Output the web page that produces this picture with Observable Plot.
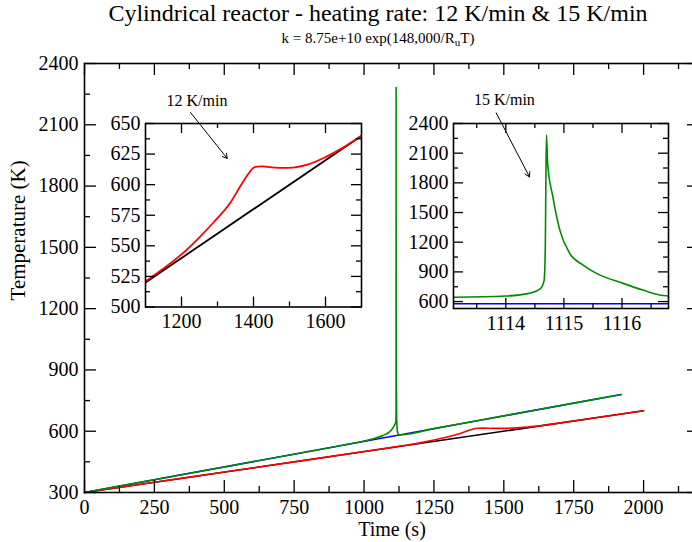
<!DOCTYPE html>
<html><head><meta charset="utf-8">
<script src="https://cdn.jsdelivr.net/npm/d3@7"></script>
<script src="https://cdn.jsdelivr.net/npm/@observablehq/plot@0.6"></script>
<style>
html,body{margin:0;padding:0;background:#fff;overflow:hidden;}
#wrap{position:relative;width:692px;height:542px;overflow:hidden;font-family:"Liberation Serif","Times New Roman",serif;color:#000;}
.t{position:absolute;left:68px;width:620px;text-align:center;white-space:nowrap;line-height:1;}
#title{font-size:24px;top:1px;}
#sub{font-size:15px;top:31px;}
#sub sub{font-size:11px;vertical-align:-3px;line-height:0;}
.abs{position:absolute;}
</style>
</head><body>
<div id="wrap">
  <div id="main" class="abs" style="left:0;top:0"></div>
  <div id="in12" class="abs"></div>
  <div id="in15" class="abs"></div>
  <div id="title" class="t">Cylindrical reactor - heating rate: 12 K/min &amp; 15 K/min</div>
  <div id="sub" class="t">k = 8.75e+10 exp(148,000/R<sub>u</sub>T)</div>
</div>
<script>
const FONT = '"Liberation Serif","Times New Roman",serif';

// ---- main axes
const timeTicks = [0, 250, 500, 750, 1000, 1250, 1500, 1750, 2000];
const timeMinorTicks = [125, 375, 625, 875, 1125, 1375, 1625, 1875, 2125];
const tempTicks = [300, 600, 900, 1200, 1500, 1800, 2100, 2400];
const tempMinorTicks = [450, 750, 1050, 1350, 1650, 1950, 2250];
const yLabelAt = [1240]; // temperature level at which the y-axis title is centred

// ---- series (time s, temperature K)
const ref12Time = [0, 2000];
const ref12Temp = [300, 700];
const ref15Time = [0, 1920];
const ref15Temp = [300, 780];
const react12Time = [0, 250, 500, 750, 1000, 1100, 1150, 1200, 1250, 1290, 1335, 1363, 1385, 1398, 1410, 1425, 1450, 1480, 1510, 1550, 1600, 1650, 1700, 1750, 2000];
const react12Temp = [300, 350, 400, 450, 500.5, 521, 531.5, 543, 557, 569.5, 585, 598.5, 608.5, 613.3, 614.8, 615, 614.2, 613.7, 614, 616.3, 622.5, 630.5, 640, 650, 700];
const react15Time = [0, 250, 500, 750, 900, 950, 1000, 1040, 1070, 1090, 1100, 1108, 1113.1, 1114.0, 1114.4, 1114.6, 1114.66, 1114.68, 1114.69, 1114.70, 1114.72, 1114.81, 1114.93, 1115.1, 1115.33, 1115.56, 1116.02, 1116.36, 1116.65, 1116.8, 1118, 1120, 1125, 1250, 1500, 1750, 1920];
const react15Temp = [300, 362.5, 425, 487.5, 525.5, 538.5, 552, 566, 580, 596, 610, 628, 643, 656, 683, 733, 817, 1154, 1827, 2282, 1996, 1659, 1322, 1087, 969, 885, 784, 716, 666, 656, 620, 595, 582, 612.5, 675, 737.5, 780];

// ---- inset 12 K/min
const in12TimeTicks = [1200, 1400, 1600];
const in12TimeMinor = [1300, 1500];
const in12TempTicks = [500, 525, 550, 575, 600, 625, 650];
const in12TempMinor = [512.5, 537.5, 562.5, 587.5, 612.5, 637.5];
const note12Text = ["12 K/min"];
const note12X = [1243], note12Y = [668.6];
const arrow12X1 = [1225], arrow12Y1 = [659], arrow12X2 = [1327], arrow12Y2 = [621.4];

// ---- inset 15 K/min
const in15TimeTicks = [1114, 1115, 1116];
const in15TimeMinor = [1113.5, 1114.5, 1115.5, 1116.5];
const in15TempTicks = [600, 900, 1200, 1500, 1800, 2100, 2400];
const in15TempMinor = [750, 1050, 1350, 1650, 1950, 2250];
const note15Text = ["15 K/min"];
const note15X = [1113.976], note15Y = [2636];
const arrow15X1 = [1113.835], arrow15Y1 = [2507], arrow15X2 = [1114.408], arrow15Y2 = [1860];

const rows = (ts, Ts) => ts.map((t, i) => ({t, T: Ts[i]}));
const fmt = d => String(d);

function boxTicks(xMajor, xMinor, yMajor, yMinor, fw, fh, maj, min, sw) {
  const s = {stroke: "#000", strokeWidth: sw};
  return [
    Plot.tickX(xMajor, {x: d => d, insetTop: fh - maj, ...s}),
    Plot.tickX(xMajor, {x: d => d, insetBottom: fh - maj, ...s}),
    Plot.tickX(xMinor, {x: d => d, insetTop: fh - min, ...s}),
    Plot.tickX(xMinor, {x: d => d, insetBottom: fh - min, ...s}),
    Plot.tickY(yMajor, {y: d => d, insetRight: fw - maj, ...s}),
    Plot.tickY(yMajor, {y: d => d, insetLeft: fw - maj, ...s}),
    Plot.tickY(yMinor, {y: d => d, insetRight: fw - min, ...s}),
    Plot.tickY(yMinor, {y: d => d, insetLeft: fw - min, ...s})
  ];
}

// ---------- main plot
{
  const W = 692, H = 542, mL = 84, mR = -7, mT = 63, mB = 50;
  const fw = W - mL - mR, fh = H - mT - mB;
  const p = Plot.plot({
    width: W, height: H, marginLeft: mL, marginRight: mR, marginTop: mT, marginBottom: mB,
    style: {fontFamily: FONT, fontSize: "20px", background: "transparent", color: "#000", overflow: "visible"},
    x: {domain: [0, 2200], axis: null, label: null},
    y: {domain: [300, 2400], axis: null, label: null},
    marks: [
      Plot.line(rows(ref12Time, ref12Temp), {x: "t", y: "T", stroke: "#000", strokeWidth: 1.6}),
      Plot.line(rows(ref15Time, ref15Temp), {x: "t", y: "T", stroke: "#0000ff", strokeWidth: 1.6}),
      Plot.line(rows(react12Time, react12Temp), {x: "t", y: "T", stroke: "#ff0000", strokeWidth: 1.6, curve: "monotone-x"}),
      Plot.line(rows(react15Time, react15Temp), {x: "t", y: "T", stroke: "#008b00", strokeWidth: 1.6, curve: "monotone-x"}),
      ...boxTicks(timeTicks, timeMinorTicks, tempTicks, tempMinorTicks, fw, fh, 12, 6, 1.3),
      Plot.frame({stroke: "#000", strokeWidth: 1.6}),
      Plot.axisX({ticks: timeTicks, tickSize: 0, tickPadding: 7, tickFormat: fmt, label: null}),
      Plot.axisY({ticks: tempTicks, tickSize: 0, tickPadding: 6, tickFormat: fmt, label: null}),
      Plot.text(["Time (s)"], {text: d => d, frameAnchor: "bottom", dy: 37, lineAnchor: "middle", fontSize: 20}),
      Plot.text(["Temperature (K)"], {text: d => d, y: yLabelAt, frameAnchor: "left", dx: -66, rotate: -90, lineAnchor: "middle", fontSize: 21})
    ]
  });
  document.getElementById("main").appendChild(p);
}

function inset(el, left, top, cfg) {
  const mL = 75, mR = 6, mT = 45, mB = 30;
  const W = mL + cfg.fw + mR, H = mT + cfg.fh + mB;
  const p = Plot.plot({
    width: W, height: H, marginLeft: mL, marginRight: mR, marginTop: mT, marginBottom: mB,
    style: {fontFamily: FONT, fontSize: "20px", background: "transparent", color: "#000", overflow: "visible"},
    x: {domain: cfg.xd, axis: null, label: null},
    y: {domain: cfg.yd, axis: null, label: null},
    marks: [
      Plot.frame({fill: "white", stroke: null}),
      ...cfg.lines,
      ...boxTicks(cfg.xt, cfg.xm, cfg.yt, cfg.ym, cfg.fw, cfg.fh, 10, 5, 1.3),
      Plot.frame({stroke: "#000", strokeWidth: 1.6}),
      Plot.axisX({ticks: cfg.xt, tickSize: 0, tickPadding: 7, tickFormat: fmt, label: null}),
      Plot.axisY({ticks: cfg.yt, tickSize: 0, tickPadding: 5, tickFormat: fmt, label: null}),
      ...cfg.notes
    ]
  });
  const e = document.getElementById(el);
  e.style.left = (left - mL) + "px";
  e.style.top = (top - mT) + "px";
  e.appendChild(p);
}

inset("in12", 145, 123.3, {
  fw: 216, fh: 183.5, xd: [1100, 1700], yd: [500, 650],
  xt: in12TimeTicks, xm: in12TimeMinor, yt: in12TempTicks, ym: in12TempMinor,
  lines: [
    Plot.line(rows(ref12Time, ref12Temp), {x: "t", y: "T", stroke: "#000", strokeWidth: 1.8, clip: true}),
    Plot.line(rows(react12Time, react12Temp), {x: "t", y: "T", stroke: "#ff0000", strokeWidth: 1.8, clip: true, curve: "monotone-x"})
  ],
  notes: [
    Plot.text(note12Text, {x: note12X, y: note12Y, text: note12Text, fontSize: 16, lineAnchor: "middle"}),
    Plot.arrow([0], {x1: arrow12X1, y1: arrow12Y1, x2: arrow12X2, y2: arrow12Y2, stroke: "#000", strokeWidth: 1, headLength: 8})
  ]
});

inset("in15", 453.3, 123.3, {
  fw: 215, fh: 185, xd: [1113.1, 1116.8], yd: [530, 2400],
  xt: in15TimeTicks, xm: in15TimeMinor, yt: in15TempTicks, ym: in15TempMinor,
  lines: [
    Plot.line(rows(ref15Time, ref15Temp), {x: "t", y: "T", stroke: "#0000ff", strokeWidth: 1.5, clip: true}),
    Plot.line(rows(react15Time, react15Temp), {x: "t", y: "T", stroke: "#008b00", strokeWidth: 1.6, clip: true, curve: "monotone-x"})
  ],
  notes: [
    Plot.text(note15Text, {x: note15X, y: note15Y, text: note15Text, fontSize: 16, lineAnchor: "middle"}),
    Plot.arrow([0], {x1: arrow15X1, y1: arrow15Y1, x2: arrow15X2, y2: arrow15Y2, stroke: "#000", strokeWidth: 1, headLength: 8})
  ]
});
</script>
</body></html>
